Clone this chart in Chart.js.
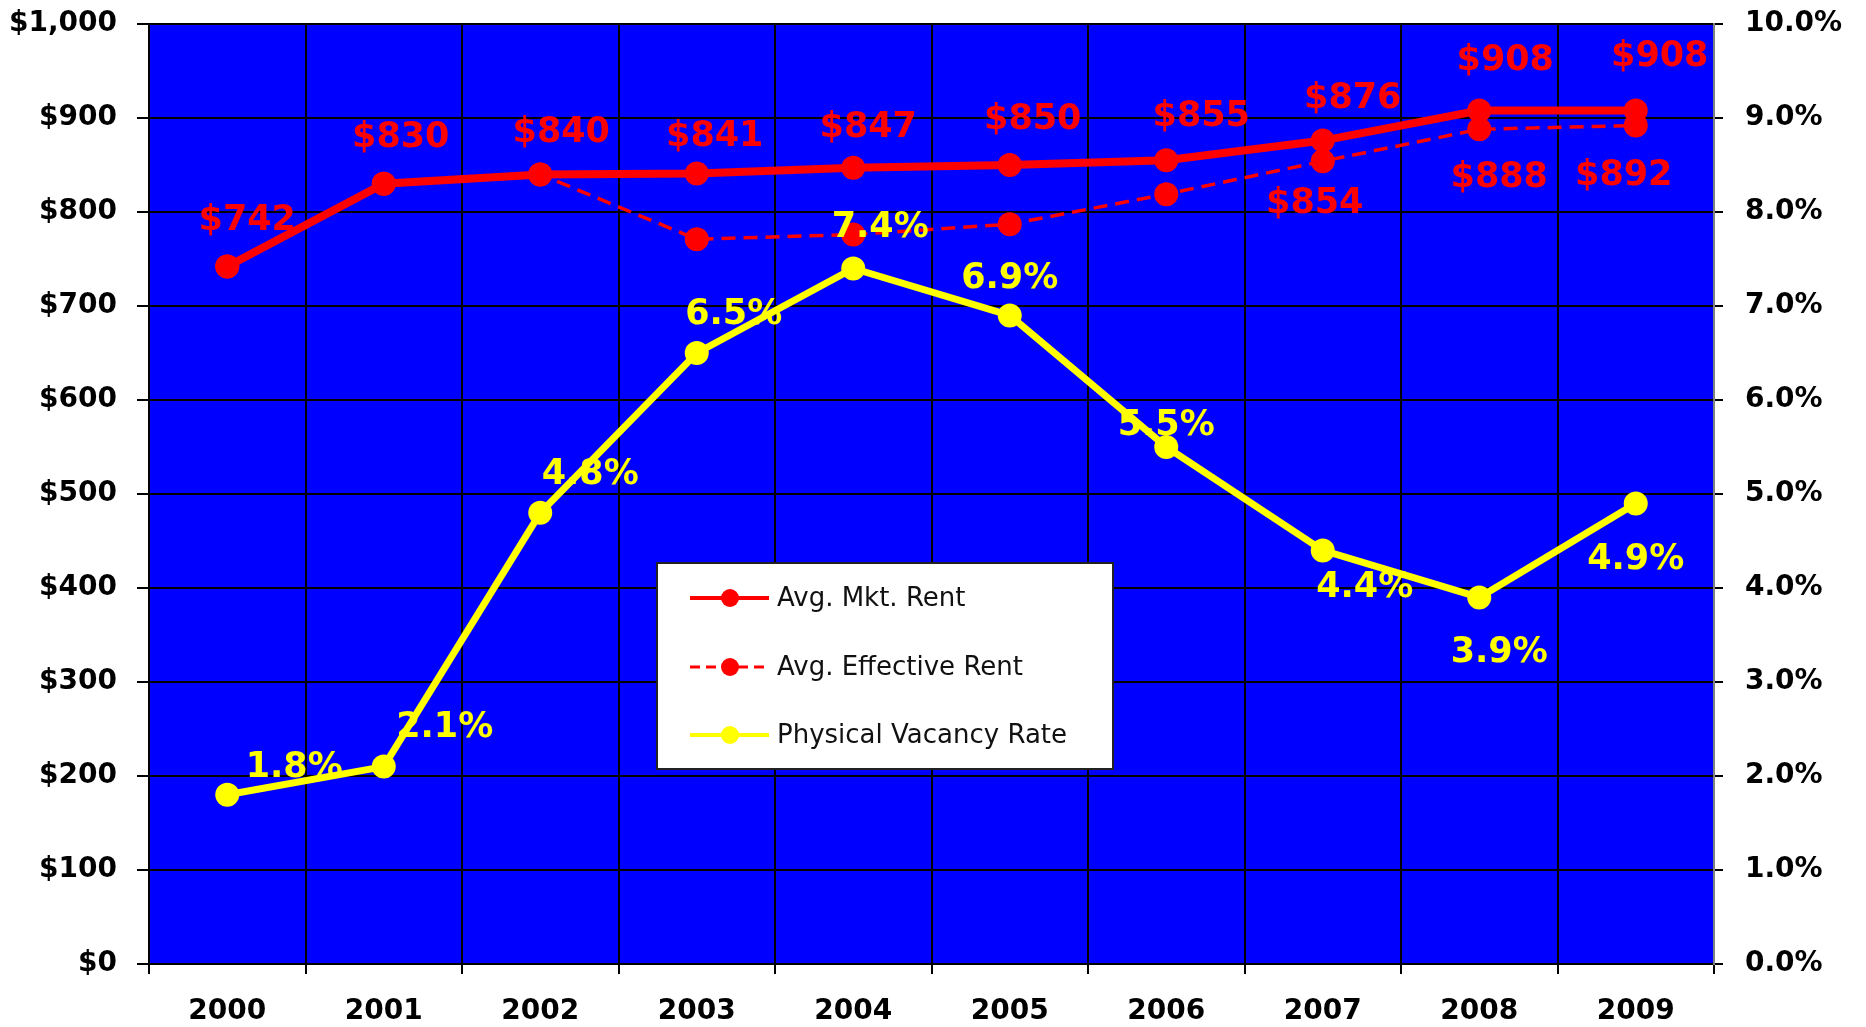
<!DOCTYPE html>
<html>
<head>
<meta charset="utf-8">
<title>Rent and Vacancy, 2000-2009</title>
<script src="https://cdn.jsdelivr.net/npm/chart.js@4.4.1/dist/chart.umd.min.js"></script>
<style>
  html, body { margin: 0; padding: 0; background: #ffffff; overflow: hidden; }
  #wrap { width: 1866px; height: 1027px; position: relative; }
</style>
</head>
<body>
<div id="wrap"><canvas id="chart" width="1866" height="1027"></canvas></div>
<script>
// ---- data ----
const years = ['2000', '2001', '2002', '2003', '2004', '2005', '2006', '2007', '2008', '2009'];
const marketRent = [742, 830, 840, 841, 847, 850, 855, 876, 908, 908];
const effectiveRent = [742, 830, 840, 771, 776, 787, 819, 854, 888, 892];
const vacancyRate = [1.8, 2.1, 4.8, 6.5, 7.4, 6.9, 5.5, 4.4, 3.9, 4.9];
const effectiveLabelShown = [false, false, false, false, false, false, false, true, true, true];

// ---- label placement (pixel offsets from each point) ----
const marketLabelDx = [20, 17, 21, 18, 15, 23, 35, 30, 26, 24];
const marketLabelDy = [-46, -46, -41, -37, -40, -45, -43, -42, -50, -54];
const effectiveLabelDx = [0, 0, 0, 0, 0, 0, 0, -8, 20, -12];
const effectiveLabelDy = [0, 0, 0, 0, 0, 0, 0, 43, 49, 50];
const vacancyLabelDx = [67, 61, 50, 37, 27, 0, 0, 42, 20, 0];
const vacancyLabelDy = [-27, -39, -38, -38, -40, -36, -21, 38, 56, 57];

const RED = '#ff0000';
const YELLOW = '#ffff00';
const PLOT_BLUE = '#0000ff';
const TICK_FONT = { family: 'DejaVu Sans', size: 28, weight: 'bold' };
const LABEL_FONT = 'bold 35px "DejaVu Sans"';

const money = v => '$' + v.toLocaleString('en-US');

// blue plot area behind grid and lines
const plotBackground = {
  id: 'plotBackground',
  beforeDraw(chart) {
    const { ctx, chartArea: a } = chart;
    ctx.save();
    ctx.fillStyle = '#ffffff';
    ctx.fillRect(0, 0, chart.width, chart.height);
    ctx.fillStyle = PLOT_BLUE;
    ctx.fillRect(a.left, a.top, a.right - a.left, a.bottom - a.top);
    ctx.restore();
  }
};

// value labels next to the points
const valueLabels = {
  id: 'valueLabels',
  afterDatasetsDraw(chart) {
    const ctx = chart.ctx;
    ctx.save();
    ctx.font = LABEL_FONT;
    ctx.textAlign = 'center';
    ctx.textBaseline = 'middle';
    const mk = chart.getDatasetMeta(0).data;
    const ef = chart.getDatasetMeta(1).data;
    const vc = chart.getDatasetMeta(2).data;
    ctx.fillStyle = RED;
    mk.forEach((p, i) => ctx.fillText(money(marketRent[i]), p.x + marketLabelDx[i], p.y + marketLabelDy[i]));
    ef.forEach((p, i) => {
      if (effectiveLabelShown[i]) ctx.fillText(money(effectiveRent[i]), p.x + effectiveLabelDx[i], p.y + effectiveLabelDy[i]);
    });
    ctx.fillStyle = YELLOW;
    vc.forEach((p, i) => ctx.fillText(vacancyRate[i].toFixed(1) + '%', p.x + vacancyLabelDx[i], p.y + vacancyLabelDy[i]));
    ctx.restore();
  }
};

// boxed legend sitting inside the plot
const boxedLegend = {
  id: 'boxedLegend',
  afterDraw(chart) {
    const { ctx, chartArea: a } = chart;
    const w = a.right - a.left, h = a.bottom - a.top;
    const bx = Math.round(a.left + 0.3246 * w), by = Math.round(a.top + 0.5734 * h);
    const bw = Math.round(0.2914 * w), bh = Math.round(0.2191 * h);
    ctx.save();
    ctx.fillStyle = '#ffffff';
    ctx.fillRect(bx, by, bw, bh);
    ctx.strokeStyle = '#222222';
    ctx.lineWidth = 2;
    ctx.strokeRect(bx, by, bw, bh);
    const rows = [35, 104, 172];
    chart.data.datasets.forEach((ds, i) => {
      const y = by + rows[i];
      ctx.strokeStyle = ds.borderColor;
      ctx.lineWidth = ds.borderDash && ds.borderDash.length ? 3 : 4;
      ctx.setLineDash(ds.borderDash && ds.borderDash.length ? [10, 6] : []);
      ctx.beginPath();
      ctx.moveTo(bx + 33, y);
      ctx.lineTo(bx + 112, y);
      ctx.stroke();
      ctx.setLineDash([]);
      ctx.fillStyle = ds.pointBackgroundColor;
      ctx.beginPath();
      ctx.arc(bx + 73, y, 9, 0, Math.PI * 2);
      ctx.fill();
      ctx.fillStyle = '#111111';
      ctx.font = '26px "DejaVu Sans"';
      ctx.textAlign = 'left';
      ctx.textBaseline = 'middle';
      ctx.fillText(ds.label, bx + 120, y + 1);
    });
    ctx.restore();
  }
};

// fixed axis band sizes so the plot area lands where it should
const fixVertical = width => s => { s.width = width; s.paddingTop = 0; s.paddingBottom = 0; };

new Chart(document.getElementById('chart'), {
  type: 'line',
  data: {
    labels: years,
    datasets: [
      {
        label: 'Avg. Mkt. Rent',
        data: marketRent,
        yAxisID: 'y',
        borderColor: RED,
        backgroundColor: RED,
        pointBackgroundColor: RED,
        borderWidth: 8,
        pointRadius: 12,
        pointBorderWidth: 0,
        tension: 0,
        order: 2
      },
      {
        label: 'Avg. Effective Rent',
        data: effectiveRent,
        yAxisID: 'y',
        borderColor: RED,
        backgroundColor: RED,
        pointBackgroundColor: RED,
        borderWidth: 3.5,
        borderDash: [14, 8],
        pointRadius: 12,
        pointBorderWidth: 0,
        tension: 0,
        order: 3
      },
      {
        label: 'Physical Vacancy Rate',
        data: vacancyRate,
        yAxisID: 'y1',
        borderColor: YELLOW,
        backgroundColor: YELLOW,
        pointBackgroundColor: YELLOW,
        borderWidth: 7,
        pointRadius: 12,
        pointBorderWidth: 0,
        tension: 0,
        order: 1
      }
    ]
  },
  options: {
    responsive: false,
    animation: false,
    events: [],
    layout: { padding: { top: 24, left: 0, right: 0, bottom: 0 } },
    plugins: {
      legend: { display: false },
      tooltip: { enabled: false }
    },
    scales: {
      x: {
        offset: true,
        grid: { offset: true, color: '#000000', lineWidth: 2, drawTicks: true, tickLength: 10, tickColor: '#000000' },
        border: { display: true, color: '#000000', width: 2 },
        ticks: { color: '#000000', font: TICK_FONT, padding: 21, maxRotation: 0 },
        afterFit(s) { s.height = 63; s.paddingLeft = 0; s.paddingRight = 0; }
      },
      y: {
        position: 'left',
        min: 0,
        max: 1000,
        grid: { color: '#000000', lineWidth: 2, drawTicks: true, tickLength: 12, tickColor: '#000000' },
        border: { display: true, color: '#000000', width: 2 },
        ticks: { stepSize: 100, color: '#000000', font: TICK_FONT, padding: 20, callback: v => money(v) },
        afterFit: fixVertical(149)
      },
      y1: {
        position: 'right',
        min: 0,
        max: 10,
        grid: { drawOnChartArea: false, drawTicks: true, tickLength: 9, tickColor: '#000000', lineWidth: 2 },
        border: { display: true, color: '#808080', width: 2 },
        ticks: { stepSize: 1, color: '#000000', font: TICK_FONT, padding: 22, callback: v => v.toFixed(1) + '%' },
        afterFit: fixVertical(152)
      }
    }
  },
  plugins: [plotBackground, valueLabels, boxedLegend]
});
</script>
</body>
</html>
